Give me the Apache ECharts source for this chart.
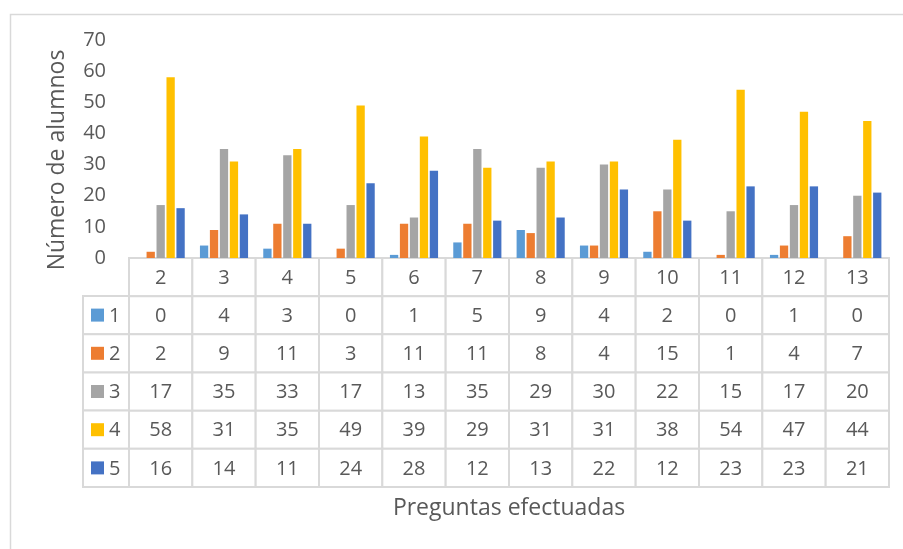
<!DOCTYPE html>
<html><head><meta charset="utf-8">
<script src="https://cdn.jsdelivr.net/npm/echarts@6/dist/echarts.min.js"></script>
<style>html,body{margin:0;padding:0;background:#fff}#c{width:903px;height:549px}</style>
</head><body><div id="c"></div>
<script>
const categories = ['2','3','4','5','6','7','8','9','10','11','12','13'];
const seriesNames = ['1','2','3','4','5'];
const s1 = [0,4,3,0,1,5,9,4,2,0,1,0];
const s2 = [2,9,11,3,11,11,8,4,15,1,4,7];
const s3 = [17,35,33,17,13,35,29,30,22,15,17,20];
const s4 = [58,31,35,49,39,29,31,31,38,54,47,44];
const s5 = [16,14,11,24,28,12,13,22,12,23,23,21];
const yMin = 0, yMax = 70, yInterval = 10;
const xTitle = 'Preguntas efectuadas';
const yTitle = 'Número de alumnos';

const colors = ['#5B9BD5','#ED7D31','#A5A5A5','#FFC000','#4472C4'];
const FONT = 'Open Sans';
const TXT = '#595959';
const LINE = '#d9d9d9';
const seriesValues = [s1,s2,s3,s4,s5];

const tableData = [], tableTexts = [];
categories.forEach((c,i)=>{ tableData.push([i,0]); tableTexts.push(c); });
seriesValues.forEach((vals,r)=>vals.forEach((v,i)=>{ tableData.push([i,r+1]); tableTexts.push(String(v)); }));
const legendData = seriesNames.map((n,r)=>[0,r]);

function cellRender(params, api){
  const c = api.coord([api.value(0), api.value(1)]);
  const s = api.size([1,1]);
  return {type:'group', children:[
    {type:'rect', shape:{x:c[0]-s[0]/2, y:c[1]-s[1]/2, width:s[0], height:s[1]},
     style:{fill:'#fff', stroke:LINE, lineWidth:2}},
    {type:'text', x:c[0], y:c[1]+1, style:{text:tableTexts[params.dataIndex], fill:TXT, fontSize:20, fontFamily:FONT, align:'center', verticalAlign:'middle'}}
  ]};
}
function legendRender(params, api){
  const c = api.coord([api.value(0), api.value(1)]);
  const s = api.size([1,1]);
  const x0 = c[0]-s[0]/2;
  const r = params.dataIndex;
  return {type:'group', children:[
    {type:'rect', shape:{x:x0, y:c[1]-s[1]/2, width:s[0], height:s[1]},
     style:{fill:'#fff', stroke:LINE, lineWidth:2}},
    {type:'rect', shape:{x:x0+8, y:c[1]-6.5, width:13, height:13}, style:{fill:colors[r]}},
    {type:'text', x:x0+26, y:c[1]+1, style:{text:seriesNames[r], fill:TXT, fontSize:20, fontFamily:FONT, align:'left', verticalAlign:'middle'}}
  ]};
}

const chart = echarts.init(document.getElementById('c'), null, {renderer:'canvas'});
chart.setOption({
  animation:false,
  backgroundColor:'#fff',
  textStyle:{fontFamily:FONT, color:TXT},
  graphic:[{type:'rect', left:8, top:12, shape:{width:1000, height:1000}, style:{fill:'none', stroke:LINE, lineWidth:1.5}, silent:true, z:-10}],
  grid:[
    {left:129, right:14, top:40, height:218},
    {left:129, right:14, top:258, height:229},
    {left:83, width:46, top:296, height:191}
  ],
  xAxis:[
    {gridIndex:0, type:'category', data:categories, axisLine:{show:false}, axisTick:{show:false}, axisLabel:{show:false}},
    {gridIndex:1, type:'category', data:categories, axisLine:{show:false}, axisTick:{show:false}, axisLabel:{show:false},
     name:xTitle, nameLocation:'middle', nameGap:10, nameTextStyle:{fontSize:23, color:TXT, fontFamily:FONT}},
    {gridIndex:2, type:'category', data:[''], show:false}
  ],
  yAxis:[
    {gridIndex:0, type:'value', min:yMin, max:yMax, interval:yInterval,
     axisLine:{show:false}, axisTick:{show:false}, splitLine:{show:false},
     axisLabel:{fontSize:20, color:TXT, fontFamily:FONT, margin:23},
     name:yTitle, nameLocation:'middle', nameGap:60, nameTextStyle:{fontSize:23, color:TXT, fontFamily:FONT, padding:[0,22,0,0]}},
    {gridIndex:1, type:'category', inverse:true, data:['h'].concat(seriesNames), show:false},
    {gridIndex:2, type:'category', inverse:true, data:seriesNames, show:false}
  ],
  series: seriesValues.map((vals,k)=>({
    type:'bar', name:seriesNames[k], xAxisIndex:0, yAxisIndex:0, data:vals,
    barGap:'20%', barCategoryGap:'24%', itemStyle:{color:colors[k]}
  })).concat([
    {type:'custom', xAxisIndex:1, yAxisIndex:1, data:tableData, renderItem:cellRender, encode:{x:0,y:1}, silent:true},
    {type:'custom', xAxisIndex:2, yAxisIndex:2, data:legendData, renderItem:legendRender, encode:{x:0,y:1}, silent:true}
  ])
});
</script></body></html>
